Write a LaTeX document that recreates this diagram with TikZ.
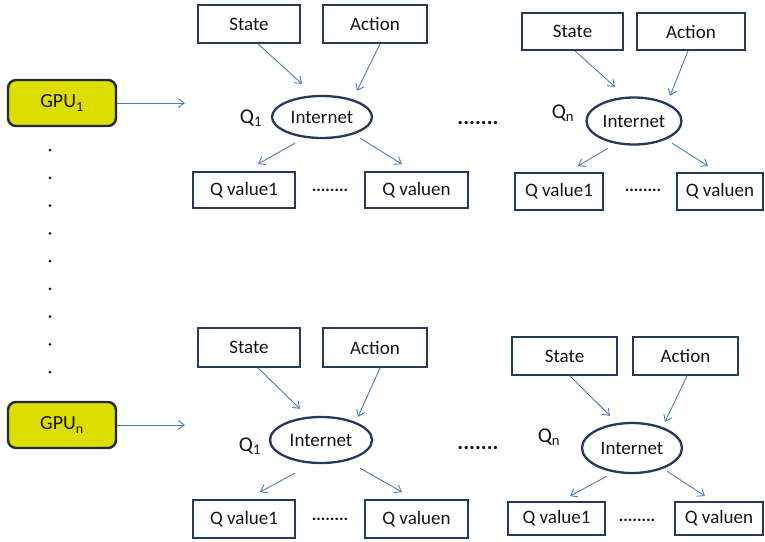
\documentclass[tikz,border=0pt]{standalone}
\usepackage{fontspec}
\setmainfont{Carlito}
\usetikzlibrary{arrows.meta,shapes.geometric}

\definecolor{boxline}{RGB}{34,58,94}
\definecolor{gpuline}{RGB}{30,42,56}
\definecolor{gpufill}{RGB}{221,221,0}
\definecolor{linkblue}{RGB}{74,126,187}
\definecolor{ink}{RGB}{20,20,20}

\tikzset{
  lbl/.style={font=\fontsize{19}{22}\selectfont, text=ink},
  qbox/.style={lbl, draw=boxline, line width=1.9pt, fill=white, inner sep=0pt},
  netnode/.style={lbl, ellipse, draw=boxline, line width=2.3pt, fill=white, inner sep=0pt},
  gpubox/.style={font=\fontsize{20}{23}\selectfont, text=ink, draw=gpuline, line width=2.4pt,
                 fill=gpufill, rounded corners=8pt,
                 minimum width=108pt, minimum height=46pt, inner sep=0pt},
  conn/.style={draw=linkblue, line width=0.9pt, -{Straight Barb[length=6pt,width=9pt]}},
  qlabel/.style={font=\fontsize{21}{24}\selectfont, text=ink, inner sep=0pt},
  gapdots/.style={font=\fontsize{22}{24}\selectfont\bfseries, text=ink, inner sep=0pt},
  rowdots/.style={font=\fontsize{17}{20}\selectfont\bfseries, text=ink, inner sep=0pt},
  vdot/.style={circle, fill=ink, inner sep=0pt, minimum size=3pt}
}

\begin{document}
\begin{tikzpicture}[x=1pt, y=-1pt]
\useasboundingbox (0,0) rectangle (765,541);

% GPU boxes and their outgoing links
\node[gpubox] (gpu1) at (62,103) {GPU\textsubscript{1}};
\node[gpubox] (gpun) at (62,425) {GPU\textsubscript{n}};
\coordinate (gpu1end) at (185,103);
\coordinate (gpunend) at (185,425);
\draw[conn] (gpu1) -- (gpu1end);
\draw[conn] (gpun) -- (gpunend);

% vertical ellipsis between the GPUs
\foreach \i in {0,...,8} {
  \node[vdot] (vd\i) at (50,{150+27.75*\i}) {};
}

% ---------- upper row, first network ----------
\node[qbox, minimum width=102pt, minimum height=38pt] (S1) at (249,24) {State};
\node[qbox, minimum width=104pt, minimum height=38pt] (A1) at (375,24) {Action};
\node[netnode, minimum width=100pt, minimum height=42pt] (E1) at (322,117) {Internet};
\node[qbox, minimum width=102pt, minimum height=36pt] (V11) at (244,190) {Q value1};
\node[qbox, minimum width=103pt, minimum height=36pt] (V1n) at (416.5,190) {Q valuen};
\node[qlabel] (Q1) at (251,118) {Q\textsubscript{1}};
\node[rowdots] (d1) at (330,190) {........};
\draw[conn] ([xshift=9pt]S1.south) -- ([xshift=-20pt,yshift=11pt]E1.north);
\draw[conn] ([xshift=5pt]A1.south) -- ([xshift=35pt,yshift=4pt]E1.north);
\draw[conn] ([xshift=-27pt,yshift=-4pt]E1.south) -- ([xshift=14pt,yshift=7pt]V11.north);
\draw[conn] ([xshift=38pt,yshift=1pt]E1.south) -- ([xshift=-14.5pt,yshift=7pt]V1n.north);

\node[gapdots] (g1) at (478,123) {.......};

% ---------- upper row, last network ----------
\node[qbox, minimum width=101pt, minimum height=37pt] (S2) at (572.5,31.5) {State};
\node[qbox, minimum width=108pt, minimum height=37pt] (A2) at (691,31.5) {Action};
\node[netnode, minimum width=95pt, minimum height=47pt] (E2) at (634,121) {Internet};
\node[qbox, minimum width=88pt, minimum height=37pt] (V21) at (559,191.5) {Q value1};
\node[qbox, minimum width=86pt, minimum height=37pt] (V2n) at (720,191.5) {Q valuen};
\node[qlabel] (Q2) at (563,113) {Q\textsubscript{n}};
\node[rowdots] (d2) at (643,190) {........};
\draw[conn] ([xshift=2.5pt]S2.south) -- ([xshift=-19pt,yshift=9.5pt]E2.north);
\draw[conn] ([xshift=-3pt]A2.south) -- ([xshift=36pt,yshift=0.5pt]E2.north);
\draw[conn] ([xshift=-26pt,yshift=-2.5pt]E2.south) -- ([xshift=19pt,yshift=6pt]V21.north);
\draw[conn] ([xshift=38pt,yshift=2.5pt]E2.south) -- ([xshift=-12pt,yshift=6pt]V2n.north);

% ---------- lower row, first network ----------
\node[qbox, minimum width=102pt, minimum height=39pt] (S3) at (249,347.5) {State};
\node[qbox, minimum width=104pt, minimum height=39pt] (A3) at (375,347.5) {Action};
\node[netnode, minimum width=102pt, minimum height=46pt] (E3) at (321,440) {Internet};
\node[qbox, minimum width=102pt, minimum height=38pt] (V31) at (244,519) {Q value1};
\node[qbox, minimum width=103pt, minimum height=38pt] (V3n) at (416.5,519) {Q valuen};
\node[qlabel] (Q3) at (250,446) {Q\textsubscript{1}};
\node[rowdots] (d3) at (330,519) {........};
\draw[conn] ([xshift=9pt]S3.south) -- ([xshift=-21pt,yshift=7pt]E3.north);
\draw[conn] ([xshift=5pt]A3.south) -- ([xshift=37pt,yshift=-1pt]E3.north);
\draw[conn] ([xshift=-26pt,yshift=-9pt]E3.south) -- ([xshift=16pt,yshift=7pt]V31.north);
\draw[conn] ([xshift=39pt,yshift=-4pt]E3.south) -- ([xshift=-14.5pt,yshift=7pt]V3n.north);

\node[gapdots] (g2) at (478,448) {.......};

% ---------- lower row, last network ----------
\node[qbox, minimum width=105pt, minimum height=38pt] (S4) at (564.5,356) {State};
\node[qbox, minimum width=105pt, minimum height=38pt] (A4) at (685.5,356) {Action};
\node[netnode, minimum width=100pt, minimum height=50pt] (E4) at (632,448) {Internet};
\node[qbox, minimum width=97pt, minimum height=33pt] (V41) at (556.5,518.5) {Q value1};
\node[qbox, minimum width=88pt, minimum height=33pt] (V4n) at (719,518.5) {Q valuen};
\node[qlabel] (Q4) at (549,437) {Q\textsubscript{n}};
\node[rowdots] (d4) at (637,520) {........};
\draw[conn] ([xshift=5.5pt]S4.south) -- ([xshift=-22pt,yshift=6pt]E4.north);
\draw[conn] ([xshift=1.5pt]A4.south) -- ([xshift=33pt]E4.north);
\draw[conn] ([xshift=-25pt,yshift=-2pt]E4.south) -- ([xshift=13.5pt,yshift=5pt]V41.north);
\draw[conn] ([xshift=35pt,yshift=3pt]E4.south) -- ([xshift=-14pt,yshift=5pt]V4n.north);
\end{tikzpicture}
\end{document}
